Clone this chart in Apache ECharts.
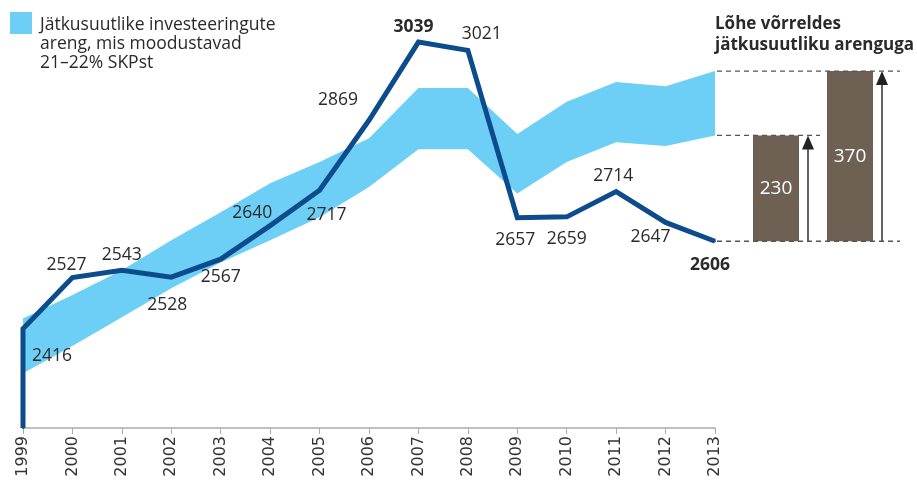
<!DOCTYPE html>
<html>
<head>
<meta charset="utf-8">
<script src="https://cdn.jsdelivr.net/npm/echarts@6/dist/echarts.min.js"></script>
<style>html,body{margin:0;padding:0;background:#fff}#c{width:917px;height:482px}</style>
</head>
<body>
<div id="c"></div>
<script>
// ---- data ----
const years = ['1999','2000','2001','2002','2003','2004','2005','2006','2007','2008','2009','2010','2011','2012','2013'];
const investValues = [2416,2527,2543,2528,2567,2640,2717,2869,3039,3021,2657,2659,2714,2647,2606];
const bandLower = [2319,2378,2441,2504,2560,2608,2658,2724,2806,2806,2710,2778,2821,2813,2836];
const bandUpper = [2438,2489,2543,2608,2669,2732,2778,2830,2939,2939,2839,2909,2952,2943,2976];
const lineStartValue = 2200;
const gapValues = [230, 370];
const boldLabels = ['2007','2013'];

// ---- styling (label placements) ----
const labelOffsets = [[29,27],[-6,-13],[0,-15],[-4,28],[0,18],[-18,-13],[7,25],[-31,-20],[-5,-15],[14,-16],[-2,22],[0,22],[-3,-16],[-15,15],[-5,24]];

const FONT = "'Open Sans', 'Noto Sans', sans-serif";
const BLUE = '#0d4c8c';
const BAND = '#6dcff6';
const BROWN = '#6e6153';
const Y_MIN = 2200, Y_MAX = 3100;
const GRID_TOP = 14, GRID_BOTTOM = 54, MAIN_LEFT = 23, MAIN_RIGHT = 202;
const mainRightPx = 917 - MAIN_RIGHT;

const lineData = [{value:[0, lineStartValue], label:{show:false}}].concat(
  investValues.map((v, i) => ({
    value: [i, v],
    label: {
      show: true,
      position: 'inside',
      offset: labelOffsets[i],
      fontWeight: boldLabels.includes(years[i]) ? 'bold' : 'normal',
      formatter: String(v)
    }
  }))
);

const bandDiff = bandUpper.map((u, i) => u - bandLower[i]);
const lastValue = investValues[investValues.length - 1];
const gapData = gapValues.map((g, i) => [i, g, lastValue]);

const chart = echarts.init(document.getElementById('c'), null, {renderer: 'canvas'});
chart.setOption({
  animation: false,
  textStyle: {fontFamily: FONT},
  grid: [
    {left: MAIN_LEFT, right: MAIN_RIGHT, top: GRID_TOP, bottom: GRID_BOTTOM},
    {left: 739, right: 30, top: GRID_TOP, bottom: GRID_BOTTOM}
  ],
  xAxis: [
    {
      type: 'category', data: years, boundaryGap: false, gridIndex: 0,
      axisLine: {lineStyle: {color: '#aaaaaa', width: 1.5}},
      axisTick: {show: true, length: 6, lineStyle: {color: '#aaaaaa'}},
      axisLabel: {rotate: 90, color: '#333', fontSize: 16, margin: 8, fontFamily: "'DejaVu Sans', sans-serif", interval: 0},
      splitLine: {show: false}
    },
    {
      type: 'category', data: ['a','b'], gridIndex: 1, show: false
    }
  ],
  yAxis: [
    {type: 'value', min: Y_MIN, max: Y_MAX, gridIndex: 0, show: false, splitLine: {show: false}},
    {type: 'value', min: Y_MIN, max: Y_MAX, gridIndex: 1, show: false, splitLine: {show: false}}
  ],
  series: [
    {
      name: 'bandBase', type: 'line', stack: 'band', data: bandLower,
      symbol: 'none', lineStyle: {opacity: 0}, areaStyle: {opacity: 0}, silent: true, z: 1
    },
    {
      name: 'band', type: 'line', stack: 'band', data: bandDiff,
      symbol: 'none', lineStyle: {opacity: 0}, areaStyle: {color: BAND, opacity: 1}, silent: true, z: 1
    },
    {
      name: 'invest', type: 'line', data: lineData, z: 3,
      symbol: 'circle', symbolSize: 2, showSymbol: true,
      itemStyle: {color: BLUE},
      lineStyle: {color: BLUE, width: 5, join: 'miter'},
      label: {color: '#2a2a2a', fontSize: 17.5, fontFamily: FONT}
    },
    {
      name: 'gap', type: 'custom', xAxisIndex: 1, yAxisIndex: 1, data: gapData, clip: false, z: 4,
      renderItem: function (params, api) {
        const idx = api.value(0), gap = api.value(1), base = api.value(2);
        const pb = api.coord([idx, base]);
        const pt = api.coord([idx, base + gap]);
        const w = 46;
        const ax = pb[0] + 32;
        const children = [
          {type: 'rect', shape: {x: pb[0] - w/2, y: pt[1], width: w, height: pb[1] - pt[1]}, style: {fill: BROWN}},
          {type: 'text', style: {text: String(gap), x: pb[0], y: (pb[1] + pt[1]) / 2, fill: '#ffffff',
            font: '500 19px ' + FONT, align: 'center', verticalAlign: 'middle'}},
          {type: 'line', shape: {x1: ax, y1: pb[1], x2: ax, y2: pt[1] + 8}, style: {stroke: '#222', lineWidth: 1.4}},
          {type: 'polygon', shape: {points: [[ax, pt[1]], [ax - 6, pt[1] + 14], [ax + 6, pt[1] + 14]]}, style: {fill: '#222'}}
        ];
        const dash = {stroke: '#555', lineWidth: 1.3, lineDash: [5, 4]};
        if (idx === 0) {
          children.push({type: 'line', shape: {x1: mainRightPx + 2, y1: pt[1], x2: pb[0] + 44, y2: pt[1]}, style: dash});
        } else {
          children.push({type: 'line', shape: {x1: mainRightPx + 2, y1: pt[1], x2: pb[0] + 50, y2: pt[1]}, style: dash});
          children.push({type: 'line', shape: {x1: mainRightPx + 2, y1: pb[1], x2: pb[0] + 50, y2: pb[1]}, style: dash});
        }
        return {type: 'group', children: children};
      }
    }
  ],
  graphic: [
    {type: 'rect', left: 10, top: 12, shape: {width: 22, height: 22}, style: {fill: BAND}},
    {type: 'text', left: 40, top: 16, style: {
      text: 'Jätkusuutlike investeeringute\nareng, mis moodustavad\n21–22% SKPst',
      font: '17.5px ' + FONT, fill: '#2a2a2a', lineHeight: 19}},
    {type: 'text', left: 715, top: 14, style: {
      text: 'Lõhe võrreldes\njätkusuutliku arenguga',
      font: 'bold 17px ' + FONT, fill: '#2a2a2a', lineHeight: 21}}
  ]
});
</script>
</body>
</html>
